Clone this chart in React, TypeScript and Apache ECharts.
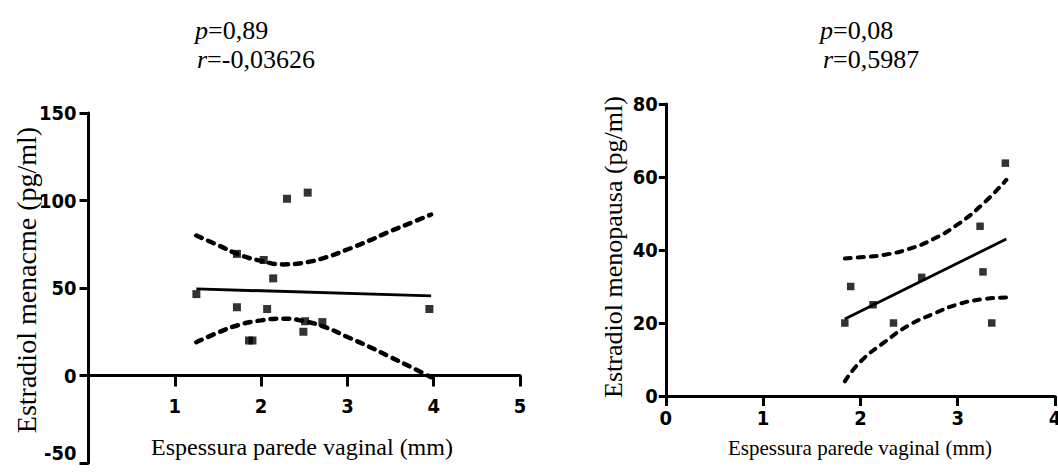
import React, { useEffect, useRef } from "react";
import * as echarts from "echarts";

// Left panel: Estradiol menacme vs vaginal wall thickness
const menacmeX = [1.25, 1.72, 1.72, 1.86, 1.9, 2.03, 2.07, 2.14, 2.3, 2.54, 2.49, 2.51, 2.71, 3.95];
const menacmeY = [46.5, 39, 69.5, 20, 20, 66, 38, 55.5, 101, 104.5, 25, 31, 30.5, 38];
const menacmeFitX = [1.25, 3.97];
const menacmeFitY = [49.5, 45.5];
const menacmeBandX = [1.25, 1.5, 1.75, 2.0, 2.25, 2.5, 2.75, 3.0, 3.25, 3.5, 3.75, 3.97];
const menacmeUpper = [80, 74.5, 69, 65.5, 63.5, 64.5, 67.5, 72, 77, 82.5, 87.5, 92];
const menacmeLower = [19, 24.5, 29, 31.5, 32.5, 31, 27.5, 22, 16.5, 10.5, 4.5, -1];

// Right panel: Estradiol menopausa vs vaginal wall thickness
const menopX = [1.84, 1.9, 2.13, 2.34, 2.63, 3.23, 3.26, 3.35, 3.49];
const menopY = [20, 30, 25, 20, 32.5, 46.5, 34, 20, 63.8];
const menopFitX = [1.84, 3.5];
const menopFitY = [21.1, 43];
const menopBandX = [1.84, 2.0, 2.25, 2.5, 2.75, 3.0, 3.25, 3.5];
const menopUpper = [37.7, 38, 38.7, 40.3, 43, 47, 52.4, 59.2];
const menopLower = [4, 9.4, 14.8, 19.4, 22.5, 25.1, 26.5, 27];

const leftXTicks = [0, 1, 2, 3, 4, 5];
const leftYTicks = [-50, 0, 50, 100, 150];
const rightXTicks = [0, 1, 2, 3, 4];
const rightYTicks = [0, 20, 40, 60, 80];

const zip = (xs: number[], ys: number[]) => xs.map((x, i) => [x, ys[i]]);

const SERIF = "'Liberation Serif', 'Times New Roman', serif";
const NARROW = "'Liberation Sans Narrow', 'Arial Narrow', 'DejaVu Sans Condensed', sans-serif";
const INK = "#000";

export default function App() {
  const ref = useRef<HTMLDivElement>(null);
  useEffect(() => {
    if (!ref.current) return;
    const chart = echarts.init(ref.current, undefined, { renderer: "svg" });

    const line = { show: true, onZero: false, lineStyle: { color: INK, width: 3 } };
    const label = (fs: number, margin: number, extra: object = {}) => ({
      color: INK, fontFamily: NARROW, fontWeight: "bold" as const, fontSize: fs, margin, ...extra,
    });
    const tick = (len: number) => ({ show: true, length: len, lineStyle: { color: INK, width: 3 } });
    const dash = (w: number) => ({ color: INK, width: w, type: [6, 7] as number[], cap: "round" as const });

    // pixel row of value 0 on the left panel (y from -50 at 463 to 150 at 113)
    const leftMax = leftYTicks[leftYTicks.length - 1];
    const leftZeroY = 113 + (350 * leftMax) / (leftMax - leftYTicks[0]);

    chart.setOption({
      animation: false,
      backgroundColor: "#fff",
      grid: [
        { left: 88.5, right: 1058 - 520, top: 113, bottom: 472 - 463, outerBoundsMode: "none", containLabel: false },
        { left: 665.8, right: 1058 - 1055, top: 104, bottom: 472 - 396, outerBoundsMode: "none", containLabel: false },
        { left: 88.5, right: 1058 - 520, top: 113, bottom: 472 - leftZeroY, outerBoundsMode: "none", containLabel: false },
      ],
      xAxis: [
        {
          type: "value", gridIndex: 0, show: false,
          min: leftXTicks[0], max: leftXTicks[leftXTicks.length - 1], interval: 1,
          splitLine: { show: false }, axisLine: { show: false, onZero: false },
        },
        {
          type: "value", gridIndex: 1,
          min: rightXTicks[0], max: rightXTicks[rightXTicks.length - 1], interval: 1,
          splitLine: { show: false }, axisLine: line, axisTick: tick(10), axisLabel: label(20, 12),
        },
        {
          type: "value", gridIndex: 2,
          min: leftXTicks[0], max: leftXTicks[leftXTicks.length - 1], interval: 1,
          splitLine: { show: false }, axisLine: line, axisTick: tick(11),
          axisLabel: label(20, 20, { formatter: (v: number) => (v === 0 ? "" : String(v)) }),
        },
      ],
      yAxis: [
        {
          type: "value", gridIndex: 0,
          min: leftYTicks[0], max: leftMax, interval: 50,
          splitLine: { show: false }, axisLine: line, axisTick: tick(9),
          axisLabel: label(20, 12, { verticalAlignMinLabel: "bottom" }),
        },
        {
          type: "value", gridIndex: 1,
          min: rightYTicks[0], max: rightYTicks[rightYTicks.length - 1], interval: 20,
          splitLine: { show: false }, axisLine: line, axisTick: tick(7), axisLabel: label(20, 8),
        },
        {
          type: "value", gridIndex: 2, show: false, min: 0, max: leftMax,
          splitLine: { show: false }, axisLine: { show: false, onZero: false },
        },
      ],
      series: [
        {
          type: "line", xAxisIndex: 0, yAxisIndex: 0, data: zip(menacmeBandX, menacmeUpper),
          smooth: true, showSymbol: false, lineStyle: dash(4.5),
        },
        {
          type: "line", xAxisIndex: 0, yAxisIndex: 0, data: zip(menacmeBandX, menacmeLower),
          smooth: true, showSymbol: false, lineStyle: dash(4.5),
        },
        {
          type: "line", xAxisIndex: 0, yAxisIndex: 0, data: zip(menacmeFitX, menacmeFitY),
          showSymbol: false, lineStyle: { color: INK, width: 3 },
        },
        {
          type: "scatter", xAxisIndex: 0, yAxisIndex: 0, data: zip(menacmeX, menacmeY),
          symbol: "rect", symbolSize: 8, itemStyle: { color: INK },
        },
        {
          type: "line", xAxisIndex: 1, yAxisIndex: 1, data: zip(menopBandX, menopUpper),
          smooth: true, showSymbol: false, lineStyle: dash(4),
        },
        {
          type: "line", xAxisIndex: 1, yAxisIndex: 1, data: zip(menopBandX, menopLower),
          smooth: true, showSymbol: false, lineStyle: dash(4),
        },
        {
          type: "line", xAxisIndex: 1, yAxisIndex: 1, data: zip(menopFitX, menopFitY),
          showSymbol: false, lineStyle: { color: INK, width: 2.8 },
        },
        {
          type: "scatter", xAxisIndex: 1, yAxisIndex: 1, data: zip(menopX, menopY),
          symbol: "rect", symbolSize: 7.5, itemStyle: { color: INK },
        },
      ],
      graphic: [
        {
          type: "text", x: 195, y: 30,
          style: {
            text: "{i|p}=0,89", fill: INK, fontFamily: SERIF, fontSize: 26, verticalAlign: "middle",
            rich: { i: { fontStyle: "italic", fontFamily: SERIF, fontSize: 26, fill: INK } },
          },
        },
        {
          type: "text", x: 197, y: 59,
          style: {
            text: "{i|r}=-0,03626", fill: INK, fontFamily: SERIF, fontSize: 26, verticalAlign: "middle",
            rich: { i: { fontStyle: "italic", fontFamily: SERIF, fontSize: 26, fill: INK } },
          },
        },
        {
          type: "text", x: 820, y: 30,
          style: {
            text: "{i|p}=0,08", fill: INK, fontFamily: SERIF, fontSize: 26, verticalAlign: "middle",
            rich: { i: { fontStyle: "italic", fontFamily: SERIF, fontSize: 26, fill: INK } },
          },
        },
        {
          type: "text", x: 823, y: 59,
          style: {
            text: "{i|r}=0,5987", fill: INK, fontFamily: SERIF, fontSize: 26, verticalAlign: "middle",
            rich: { i: { fontStyle: "italic", fontFamily: SERIF, fontSize: 26, fill: INK } },
          },
        },
        {
          type: "text", x: 26, y: 280, rotation: Math.PI / 2,
          style: {
            text: "Estradiol menacme (pg/ml)", fill: INK, fontFamily: SERIF, fontSize: 28,
            align: "center", verticalAlign: "middle",
          },
        },
        {
          type: "text", x: 613, y: 247, rotation: Math.PI / 2,
          style: {
            text: "Estradiol menopausa (pg/ml)", fill: INK, fontFamily: SERIF, fontSize: 26,
            align: "center", verticalAlign: "middle",
          },
        },
        {
          type: "text", x: 302, y: 447,
          style: {
            text: "Espessura parede vaginal (mm)", fill: INK, fontFamily: SERIF, fontSize: 24,
            align: "center", verticalAlign: "middle",
          },
        },
        {
          type: "text", x: 860, y: 448,
          style: {
            text: "Espessura parede vaginal (mm)", fill: INK, fontFamily: SERIF, fontSize: 21,
            align: "center", verticalAlign: "middle",
          },
        },
      ],
    });
    return () => chart.dispose();
  }, []);
  return (
    <div
      ref={ref}
      style={{ position: "absolute", left: 0, top: 0, width: 1058, height: 472 }}
    />
  );
}
